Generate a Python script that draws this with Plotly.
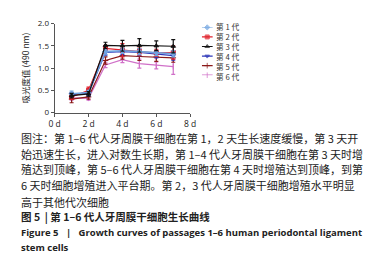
import plotly.graph_objects as go

days = [1, 2, 3, 4, 5, 6, 7]
series_names = ["第 1 代", "第 2 代", "第 3 代", "第 4 代", "第 5 代", "第 6 代"]
p1 = [0.42, 0.45, 1.37, 1.39, 1.37, 1.34, 1.32]
p2 = [0.35, 0.50, 1.44, 1.40, 1.37, 1.34, 1.35]
p3 = [0.38, 0.42, 1.51, 1.50, 1.51, 1.50, 1.49]
p4 = [0.40, 0.43, 1.35, 1.37, 1.35, 1.31, 1.28]
p5 = [0.30, 0.35, 1.17, 1.28, 1.26, 1.25, 1.23]
p6 = [0.33, 0.32, 1.07, 1.19, 1.10, 1.06, 1.03]
e1 = [0.06, 0.05, 0.06, 0.06, 0.07, 0.06, 0.07]
e2 = [0.05, 0.07, 0.07, 0.15, 0.08, 0.08, 0.15]
e3 = [0.05, 0.05, 0.07, 0.12, 0.15, 0.11, 0.15]
e4 = [0.05, 0.05, 0.06, 0.07, 0.07, 0.08, 0.10]
e5 = [0.08, 0.05, 0.08, 0.08, 0.09, 0.10, 0.10]
e6 = [0.05, 0.04, 0.06, 0.07, 0.10, 0.08, 0.17]
values = [p1, p2, p3, p4, p5, p6]
errors = [e1, e2, e3, e4, e5, e6]
colors = ["#6fa3e0", "#e0202a", "#111111", "#2c36b8", "#8b1a1a", "#d070c8"]
symbols = ["diamond", "square", "triangle-up", "triangle-down", "cross-thin", "line-ns"]
x_ticks = [0, 2, 4, 6, 8]
x_tick_text = ["0 d", "2 d", "4 d", "6 d", "8 d"]
y_ticks = [0, 0.5, 1.0, 1.5, 2.0]
y_tick_text = ["0", "0.5", "1.0", "1.5", "2.0"]

caption_lines = [
    "图注：第 1–6 代人牙周膜干细胞在第 1，2 天生长速度缓慢，第 3 天开",
    "始迅速生长，进入对数生长期，第 1–4 代人牙周膜干细胞在第 3 天时增",
    "殖达到顶峰，第 5–6 代人牙周膜干细胞在第 4 天时增殖达到顶峰，到第",
    "6 天时细胞增殖进入平台期。第 2，3 代人牙周膜干细胞增殖水平明显",
    "高于其他代次细胞",
]
title_cn = "图 5  | 第 1–6 代人牙周膜干细胞生长曲线"
title_en1 = "Figure 5   |   Growth curves of passages 1–6 human periodontal ligament"
title_en2 = "stem cells"

W, H = 376, 254
L, R, T, B = 42, 182, 10, 103

def fx(x):
    return x / W

def fy(y):
    return 1 - y / H

fig = go.Figure()
draw_order = [5, 4, 3, 1, 0, 2]
for i in draw_order:
    fig.add_trace(go.Scatter(
        x=days, y=values[i], mode="lines+markers", name=series_names[i],
        line=dict(color=colors[i], width=1.6 if i == 0 else 1.2),
        marker=dict(symbol=symbols[i], size=4, color=colors[i],
                    line=dict(color=colors[i], width=1)),
        error_y=dict(type="data", array=errors[i], color=colors[i], thickness=1.2, width=2),
        showlegend=False, xaxis="x", yaxis="y"))

# compact legend on its own small axes (x2 spans 194..250 px, sample line 0..2)
for k, name in enumerate(series_names):
    fig.add_trace(go.Scatter(
        x=[0, 1, 2], y=[k, k, k], mode="lines+markers", cliponaxis=False,
        line=dict(color=colors[k], width=1.2),
        marker=dict(symbol=symbols[k], size=[0, 4, 0], color=colors[k],
                    line=dict(color=colors[k], width=1)),
        showlegend=False, hoverinfo="skip", xaxis="x2", yaxis="y2"))
fig.add_annotation(x=2.4, y=2.5, xref="x2", yref="y2", text="<br>".join(series_names),
                   showarrow=False, xanchor="left", yanchor="middle", align="left",
                   borderpad=0,
                   font=dict(size=7.7, color="#333333", family="Noto Sans CJK SC"))

fig.update_layout(
    width=W, height=H,
    margin=dict(l=0, r=0, t=0, b=0),
    paper_bgcolor="white", plot_bgcolor="white",
    xaxis=dict(range=[0, 8], tickvals=x_ticks, ticktext=x_tick_text, showgrid=False,
               zeroline=False, showline=True, linecolor="#555555", linewidth=1,
               ticks="outside", ticklen=3, tickcolor="#555555",
               tickfont=dict(size=8.5, color="#222222", family="Open Sans"),
               domain=[fx(L), fx(R)], anchor="y"),
    yaxis=dict(range=[0, 2.0], tickvals=y_ticks, ticktext=y_tick_text, showgrid=False,
               zeroline=False, showline=True, linecolor="#555555", linewidth=1,
               ticks="outside", ticklen=3, tickcolor="#555555",
               tickfont=dict(size=8, color="#222222", family="Open Sans"),
               title=dict(text="吸光度值 (490 nm)", standoff=6,
                          font=dict(size=8.5, color="#222222", family="Noto Sans CJK SC")),
               domain=[fy(B), fy(T)], anchor="x"),
    xaxis2=dict(domain=[fx(194), fx(250)], range=[0, 10], visible=False, anchor="y2"),
    yaxis2=dict(domain=[fy(64), fy(14)], range=[5, 0], visible=False, anchor="x2"),
)

line_y = [130, 146, 162, 179, 196]
for ty, txt in zip(line_y, caption_lines):
    fig.add_annotation(x=fx(5), y=fy(ty), xref="paper", yref="paper", text=txt,
                       showarrow=False, xanchor="left", yanchor="middle",
                       font=dict(size=11, color="#222222", family="Noto Sans CJK SC"))
fig.add_annotation(x=fx(5), y=fy(212), xref="paper", yref="paper", text="<b>" + title_cn + "</b>",
                   showarrow=False, xanchor="left", yanchor="middle",
                   font=dict(size=10.5, color="#222222", family="Noto Sans CJK SC"))
fig.add_annotation(x=fx(5), y=fy(228), xref="paper", yref="paper", text="<b>" + title_en1 + "</b>",
                   showarrow=False, xanchor="left", yanchor="middle",
                   font=dict(size=9.5, color="#222222", family="Open Sans"))
fig.add_annotation(x=fx(5), y=fy(244), xref="paper", yref="paper", text="<b>" + title_en2 + "</b>",
                   showarrow=False, xanchor="left", yanchor="middle",
                   font=dict(size=9.5, color="#222222", family="Open Sans"))

fig.write_html("out.html")
